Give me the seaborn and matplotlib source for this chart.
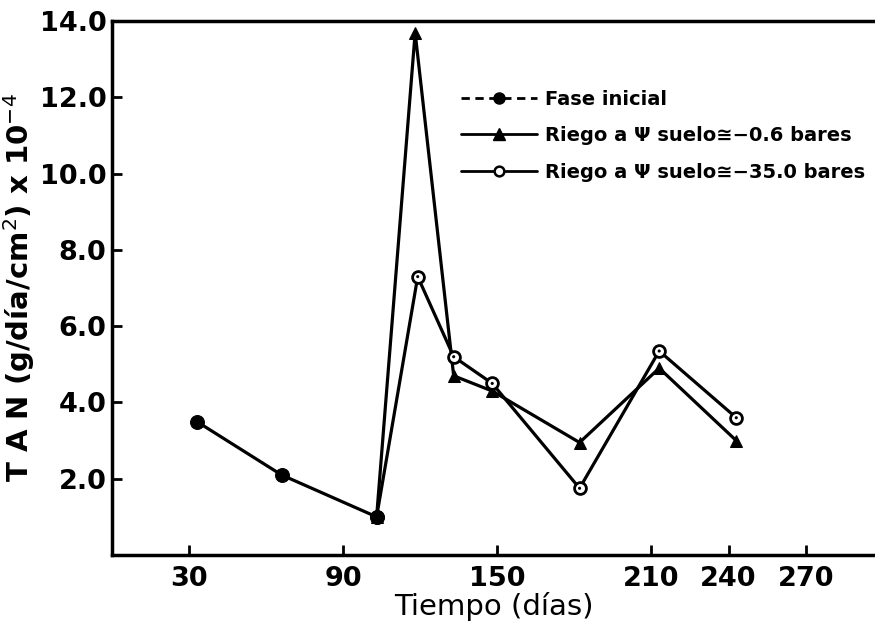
import matplotlib
matplotlib.use("Agg")
import matplotlib.pyplot as plt
import seaborn as sns
import pandas as pd
from matplotlib.lines import Line2D

# ---- data ----
fase_dias = [33, 66, 103]
fase_tan = [3.5, 2.1, 1.0]

riego06_dias = [103, 118, 133, 148, 182, 213, 243]
riego06_tan = [1.0, 13.7, 4.7, 4.3, 2.95, 4.9, 3.0]

riego35_dias = [103, 119, 133, 148, 182, 213, 243]
riego35_tan = [1.0, 7.3, 5.2, 4.5, 1.75, 5.35, 3.6]

x_ticks = [30, 90, 150, 210, 240, 270]
y_ticks = [2, 4, 6, 8, 10, 12, 14]
y_tick_labels = ["2.0", "4.0", "6.0", "8.0", "10.0", "12.0", "14.0"]

labels = ["Fase inicial",
          "Riego a Ψ suelo≅−0.6 bares",
          "Riego a Ψ suelo≅−35.0 bares"]

sns.set_style("ticks")
plt.rcParams["font.family"] = ["DejaVu Sans"]
plt.rcParams["text.color"] = "black"
plt.rcParams["axes.labelcolor"] = "black"
plt.rcParams["xtick.color"] = "black"
plt.rcParams["ytick.color"] = "black"

fig = plt.figure(figsize=(8.75, 6.34), dpi=100)
ax = fig.add_axes([0.128, 0.1246, 0.872, 0.842])

df_f = pd.DataFrame({"dia": fase_dias, "tan": fase_tan})
df_a = pd.DataFrame({"dia": riego06_dias, "tan": riego06_tan})
df_b = pd.DataFrame({"dia": riego35_dias, "tan": riego35_tan})

lw = 2.3
sns.lineplot(data=df_a, x="dia", y="tan", ax=ax, sort=False, estimator=None,
             color="black", lw=lw, marker="^", markersize=9,
             markerfacecolor="black", markeredgecolor="black")
sns.lineplot(data=df_b, x="dia", y="tan", ax=ax, sort=False, estimator=None,
             color="black", lw=lw, marker="o", markersize=8.5,
             markerfacecolor="white", markeredgecolor="black", markeredgewidth=2)
sns.scatterplot(data=df_b, x="dia", y="tan", ax=ax, color="black", s=5,
                edgecolor="none", zorder=5)
sns.lineplot(data=df_f, x="dia", y="tan", ax=ax, sort=False, estimator=None,
             color="black", lw=lw, marker="o", markersize=10,
             markerfacecolor="black", markeredgecolor="black")

ax.set_xlim(0, 297)
ax.set_ylim(0, 14)
ax.set_xticks(x_ticks)
ax.set_xticklabels([str(t) for t in x_ticks])
ax.set_yticks(y_ticks)
ax.set_yticklabels(y_tick_labels)
ax.tick_params(axis="both", direction="in", length=7, width=2,
               labelsize=19.5, pad=4)
ax.tick_params(axis="x", pad=8)
for lab in ax.get_xticklabels() + ax.get_yticklabels():
    lab.set_fontweight("bold")

for side in ["left", "bottom", "top"]:
    ax.spines[side].set_linewidth(2.5)
    ax.spines[side].set_color("black")
ax.spines["right"].set_visible(False)

ax.set_xlabel("Tiempo (días)", fontsize=21, labelpad=0)
ax.set_ylabel(r"T A N (g/día/cm$^2$) x 10$^{-4}$", fontsize=21,
              fontweight="bold", labelpad=2)

handles = [
    Line2D([0], [0], color="black", lw=2, ls=(0, (3, 2)), marker="o",
           markersize=8, markerfacecolor="black"),
    Line2D([0], [0], color="black", lw=2, marker="^", markersize=8,
           markerfacecolor="black"),
    Line2D([0], [0], color="black", lw=2, marker="o", markersize=7,
           markerfacecolor="white", markeredgewidth=1.8),
]
leg = ax.legend(handles, labels, loc="upper left",
                bbox_to_anchor=(0.457, 0.872), frameon=False,
                handlelength=3.9, handletextpad=0.45,
                labelspacing=0.9, borderpad=0, borderaxespad=0,
                prop={"weight": "bold", "size": 14})

fig.savefig("out.png", dpi=100)
